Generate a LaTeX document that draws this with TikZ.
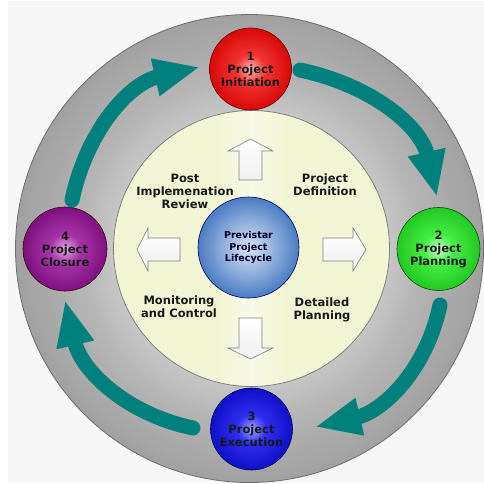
\documentclass[tikz,border=0pt]{standalone}
\usepackage{fontspec}
\setmainfont{DejaVu Sans}
\usetikzlibrary{arrows.meta}

% palette
\definecolor{pagegray}{HTML}{F7F7F7}
\definecolor{ringin}{HTML}{C6C6C6}
\definecolor{ringmid}{HTML}{B6B6B6}
\definecolor{ringout}{HTML}{A0A0A0}
\definecolor{ringedge}{HTML}{6E6E6E}
\definecolor{paleside}{HTML}{F1F5D4}
\definecolor{palemid}{HTML}{F8FAE8}
\definecolor{cyclecolor}{RGB}{0,128,124}
\definecolor{redin}{HTML}{FFB4B4}
\definecolor{redmid}{HTML}{F23434}
\definecolor{redout}{HTML}{D80808}
\definecolor{greenin}{HTML}{CCFFCC}
\definecolor{greenmid}{HTML}{44EE44}
\definecolor{greenout}{HTML}{22C822}
\definecolor{bluein}{HTML}{A0A0FF}
\definecolor{bluemid}{HTML}{2E2EF0}
\definecolor{blueout}{HTML}{1010C8}
\definecolor{purplein}{HTML}{E4A8E4}
\definecolor{purplemid}{HTML}{A634A8}
\definecolor{purpleout}{HTML}{801080}
\definecolor{corein}{HTML}{D4E2F6}
\definecolor{coreout}{HTML}{4A7CC2}

% shadings
\pgfdeclareradialshading{ringshade}{\pgfpoint{0bp}{0bp}}{color(0bp)=(ringin); color(14.7bp)=(ringin); color(18bp)=(ringmid); color(25bp)=(ringout); color(50bp)=(ringout)}
\pgfdeclarehorizontalshading{paleshade}{100bp}{color(0bp)=(paleside); color(44bp)=(paleside); color(50bp)=(palemid); color(56bp)=(paleside); color(100bp)=(paleside)}
\pgfdeclareradialshading{redball}{\pgfpoint{0bp}{0bp}}{color(0bp)=(redin); color(9bp)=(redmid); color(25bp)=(redout); color(50bp)=(redout)}
\pgfdeclareradialshading{greenball}{\pgfpoint{0bp}{0bp}}{color(0bp)=(greenin); color(9bp)=(greenmid); color(25bp)=(greenout); color(50bp)=(greenout)}
\pgfdeclareradialshading{blueball}{\pgfpoint{0bp}{0bp}}{color(0bp)=(bluein); color(9bp)=(bluemid); color(25bp)=(blueout); color(50bp)=(blueout)}
\pgfdeclareradialshading{purpleball}{\pgfpoint{0bp}{0bp}}{color(0bp)=(purplein); color(9bp)=(purplemid); color(25bp)=(purpleout); color(50bp)=(purpleout)}
\pgfdeclareradialshading{coreball}{\pgfpoint{0bp}{0bp}}{color(0bp)=(corein); color(8bp)=(corein!70!coreout); color(25bp)=(coreout); color(50bp)=(coreout)}

\tikzset{
  phase/.style={circle, minimum size=82pt, inner sep=0pt, align=center,
    font=\bfseries\fontsize{11.5}{13}\selectfont, text=black!90},
  stagelabel/.style={align=center, font=\bfseries\fontsize{11.5}{13}\selectfont, text=black!90},
  cyclearrow/.style={draw=cyclecolor, line width=15pt, line cap=round,
    -{Triangle[width=35pt,length=46pt]}},
  blockarrow/.style={draw=black!50, line width=0.6pt, top color=white, bottom color=black!6, line join=miter}
}

\begin{document}
\begin{tikzpicture}[x=1pt,y=1pt]
  \useasboundingbox (0,0) rectangle (484,483);
  % page
  \fill[white] (0,0) rectangle (484,483);
  \fill[pagegray] (8,0) rectangle (484,482);

  % outer grey ring and inner pale disc
  \path[shading=ringshade, draw=ringedge, line width=0.8pt] (249.5,234.5) circle (234);
  \path[shading=paleshade, draw=black!50, line width=0.8pt] (251.5,234.5) circle (138);

  % phase nodes
  \node[phase, shading=redball, draw=red!40!black, line width=0.6pt] (n1) at (250.5,414) {1\\Project\\Initiation};
  \node[phase, shading=greenball, draw=green!30!black, line width=0.6pt, minimum size=83pt] (n2) at (438.5,234) {2\\Project\\Planning};
  \node[phase, shading=blueball, draw=blue!30!black, line width=0.6pt] (n3) at (251.5,54) {3\\Project\\Execution};
  \node[phase, shading=purpleball, draw=black!70!purple, line width=0.6pt, minimum size=84pt] (n4) at (65,234) {4\\Project\\Closure};

  % cycle arrows between phases
  \coordinate (a1s) at (300,413);  \coordinate (a1t) at (437,286);
  \coordinate (a2s) at (440,178);  \coordinate (a2t) at (315,56);
  \coordinate (a3s) at (193,55);   \coordinate (a3t) at (65,183);
  \coordinate (a4s) at (72,283);   \coordinate (a4t) at (200,416);
  \draw[cyclearrow] (a1s) to[out=-12,in=103] (a1t);
  \draw[cyclearrow] (a2s) to[out=-102,in=13] (a2t);
  \draw[cyclearrow] (a3s) to[out=168,in=-77] (a3t);
  \draw[cyclearrow] (a4s) to[out=78,in=-167] (a4t);

  % centre disc
  \node[circle, minimum size=101pt, inner sep=0pt, shading=coreball, draw=black!60!blue, line width=0.6pt,
        align=center, font=\bfseries\fontsize{9.5}{11.5}\selectfont, text=black!85!blue] (core) at (248.5,235.5)
        {Previstar\\Project\\Lifecycle};

  % white block arrows around the centre
  \path[blockarrow] (239,303) -- (262,303) -- (262,332) -- (273,332) -- (250.5,344) -- (228,332) -- (239,332) -- cycle;
  \path[blockarrow] (239,165) -- (262,165) -- (262,135) -- (273,135) -- (250.5,124) -- (228,135) -- (239,135) -- cycle;
  \path[blockarrow] (180,222) -- (180,245) -- (148,245) -- (148,255) -- (137,233.5) -- (148,212) -- (148,222) -- cycle;
  \path[blockarrow] (323,222) -- (323,245) -- (353,245) -- (353,255) -- (366,233.5) -- (353,212) -- (353,222) -- cycle;

  % stage labels
  \node[stagelabel] (post) at (185,292) {Post\\Implemenation\\Review};
  \node[stagelabel] (def) at (325,298) {Project\\Definition};
  \node[stagelabel] (mon) at (179,176.5) {Monitoring\\and Control};
  \node[stagelabel] (det) at (322,173.5) {Detailed\\Planning};
\end{tikzpicture}
\end{document}
